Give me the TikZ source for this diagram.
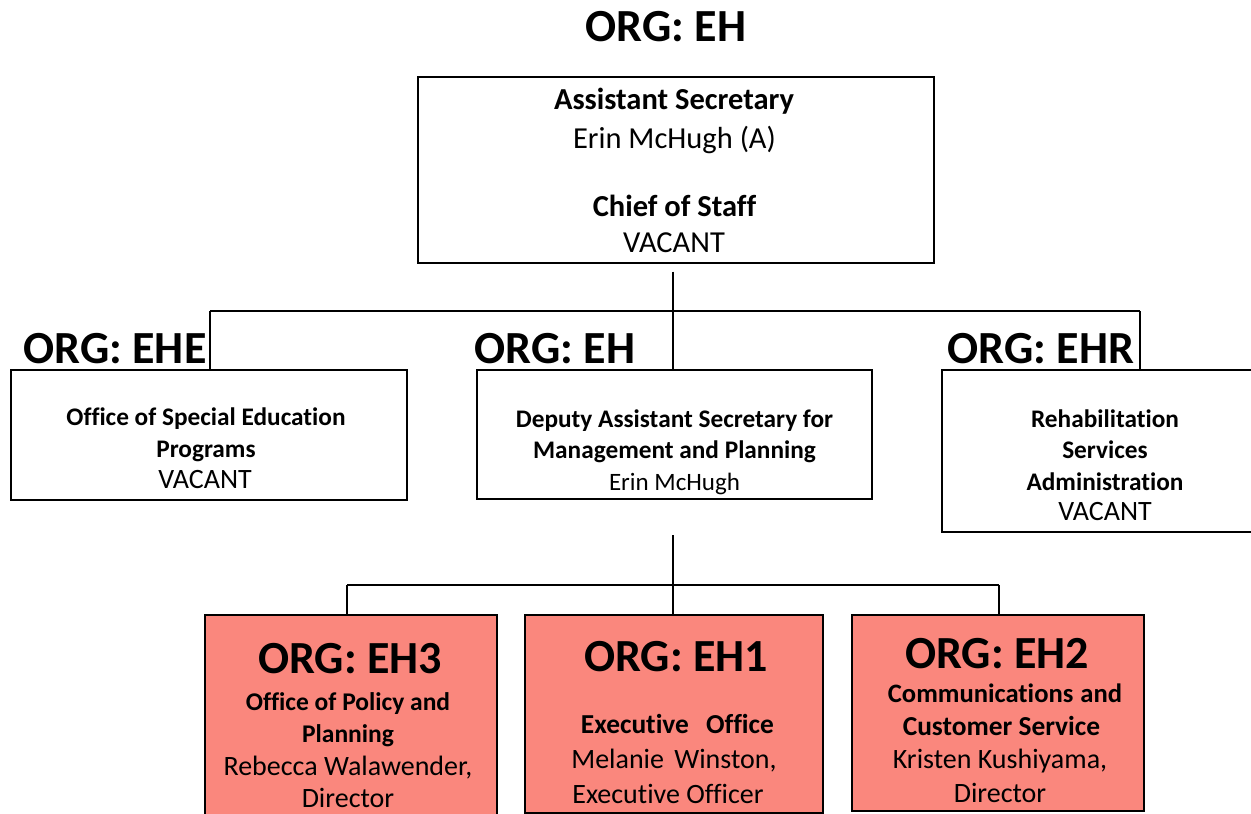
\documentclass[tikz,border=0pt]{standalone}
\usepackage{fontspec}
\setmainfont{Carlito}[Ligatures={NoCommon,NoContextual}]
\definecolor{salmonfill}{RGB}{250,135,125}
\begin{document}
\begin{tikzpicture}[x=1bp,y=-1bp,
  box/.style={draw, line width=1.6bp, inner sep=0pt, anchor=north west},
  redbox/.style={box, fill=salmonfill},
  conn/.style={line width=1.6bp},
  big/.style={font=\bfseries\fontsize{46bp}{50bp}\selectfont, anchor=base, inner sep=0pt},
  tb/.style={font=\bfseries\fontsize{30.5bp}{36bp}\selectfont, anchor=base, inner sep=0pt},
  tr/.style={font=\fontsize{30.5bp}{36bp}\selectfont, anchor=base, inner sep=0pt},
  mb/.style={font=\bfseries\fontsize{25.3bp}{30bp}\selectfont, anchor=base, inner sep=0pt},
  mr/.style={font=\fontsize{28bp}{32bp}\selectfont, anchor=base, inner sep=0pt},
  ms/.style={font=\fontsize{25bp}{30bp}\selectfont, anchor=base, inner sep=0pt},
  bb/.style={font=\bfseries\fontsize{25.5bp}{30bp}\selectfont, anchor=base, inner sep=0pt},
  bbl/.style={font=\bfseries\fontsize{27.4bp}{32bp}\selectfont, anchor=base, inner sep=0pt},
  br/.style={font=\fontsize{28bp}{32bp}\selectfont, anchor=base, inner sep=0pt}]
\useasboundingbox (0,0) rectangle (1251,814);
\clip (0,0) rectangle (1251,814);

% title
\node[big] (title) at (666,42) {ORG: EH};

% boxes
\node[box, minimum width=516bp, minimum height=186bp] (top) at (417,76) {};
\node[box, minimum width=396bp, minimum height=130bp] (ehe) at (10,369) {};
\node[box, minimum width=395bp, minimum height=129bp] (eh) at (476,369) {};
\node[box, minimum width=330bp, minimum height=162bp] (ehr) at (941,369) {};
\node[redbox, minimum width=292bp, minimum height=220bp] (eh3) at (204,614) {};
\node[redbox, minimum width=298bp, minimum height=198bp] (eh1) at (524,614) {};
\node[redbox, minimum width=292bp, minimum height=196bp] (eh2) at (851,614) {};

% top box text
\node[tb] (t1) at (674,110) {Assistant Secretary};
\node[tr] (t2) at (674.5,148) {Erin McHugh (A)};
\node[tb] (t3) at (674.5,216) {Chief of Staff};
\node[tr] (t4) at (674,252) {VACANT};

% ORG labels of middle row
\node[big] (oehe) at (115,363) {ORG: EHE};
\node[big] (oeh) at (555,363) {ORG: EH};
\node[big] (oehr) at (1041,363) {ORG: EHR};

% left box text
\node[mb] (l1) at (206,425) {Office of Special Education};
\node[mb] (l2) at (206,457) {Programs};
\node[mr] (l3) at (205,488) {VACANT};

% middle box text
\node[mb] (m1) at (674.5,427) {Deputy Assistant Secretary for};
\node[mb] (m2) at (674.5,458) {Management and Planning};
\node[ms] (m3) at (674.5,490) {Erin McHugh};

% right box text
\node[mb] (r1) at (1105,427) {Rehabilitation};
\node[mb] (r2) at (1105,458) {Services};
\node[mb] (r3) at (1105,490) {Administration};
\node[mr] (r4) at (1105,520) {VACANT};

% EH3
\node[big] (o3) at (350,673) {ORG: EH3};
\node[bb] (a1) at (348,710) {Office of Policy and};
\node[bb] (a2) at (348,742) {Planning};
\node[br] (a3) at (348,775) {Rebecca Walawender,};
\node[br] (a4) at (348,807) {Director};

% EH1
\node[big] (o1) at (676,671) {ORG: EH1};
\node[bbl] (b1) at (677.5,733) {Executive\hspace{11bp} Office};
\node[br] (b2) at (674,768) {Melanie\hspace{4bp} Winston,};
\node[br] (b3) at (668,803) {Executive Officer};

% EH2
\node[bbl] (c1) at (1005,702) {\fontsize{26.6bp}{32bp}\selectfont Communications\hspace{1bp} and};
\node[big] (o2) at (997,668) {ORG: EH2};
\node[bbl] (c2) at (1001.5,735) {Customer Service};
\node[br] (c3) at (1000,768) {Kristen Kushiyama,};
\node[br] (c4) at (1000,802) {Director};

% connectors upper
\coordinate (j0) at (673,311);
\coordinate (jl) at (210,311);
\coordinate (jr) at (1140,311);
\draw[conn, shorten <=8bp] (top.south -| j0) -- (j0);
\draw[conn] (jl) -- (jr);
\draw[conn] (jl) -- (jl |- ehe.north);
\draw[conn] (j0) -- (j0 |- eh.north);
\draw[conn] (jr) -- (jr |- ehr.north);

% connectors lower
\coordinate (d0) at (673,535);
\coordinate (k0) at (673,585);
\coordinate (kl) at (347,585);
\coordinate (kr) at (999,585);
\draw[conn] (d0) -- (k0);
\draw[conn] (kl) -- (kr);
\draw[conn] (kl) -- (kl |- eh3.north);
\draw[conn] (k0) -- (k0 |- eh1.north);
\draw[conn] (kr) -- (kr |- eh2.north);
\end{tikzpicture}
\end{document}
